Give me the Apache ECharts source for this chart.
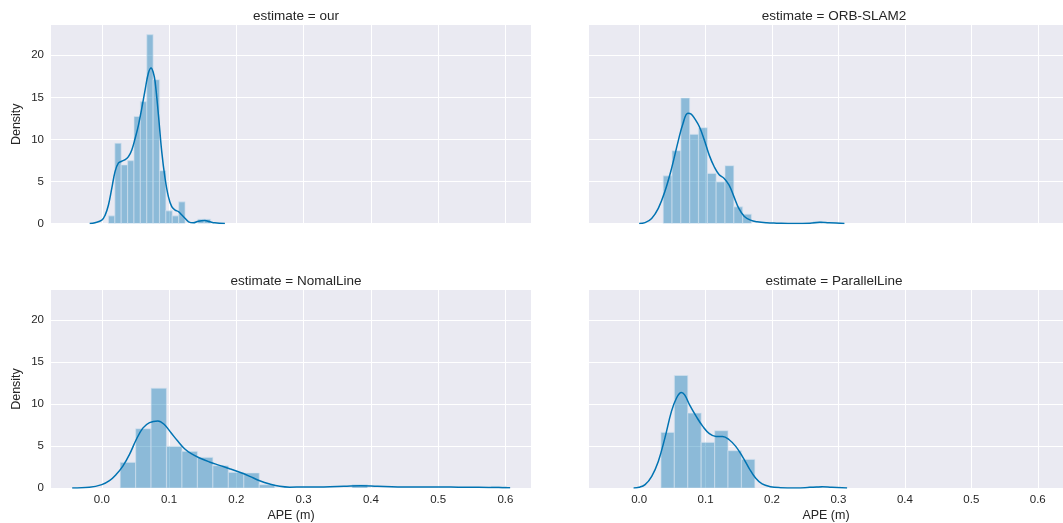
<!DOCTYPE html>
<html>
<head>
<meta charset="utf-8">
<script src="https://cdn.jsdelivr.net/npm/echarts@6/dist/echarts.min.js"></script>
<style>html,body{margin:0;padding:0;background:#fff}#c{width:1063px;height:523px}</style>
</head>
<body>
<div id="c"></div>
<script>
// ---- data ----
const panelTitles = ['estimate = our', 'estimate = ORB-SLAM2', 'estimate = NomalLine', 'estimate = ParallelLine'];
const xTicks = [0.0, 0.1, 0.2, 0.3, 0.4, 0.5, 0.6];
const yTicks = [0, 5, 10, 15, 20];

// histogram bins: start, width, heights (density)
const ourBinStart = 0.0099, ourBinWidth = 0.00949;
const ourHeights = [0.91, 9.54, 6.96, 7.48, 12.72, 14.5, 22.46, 17.1, 6.28, 1.51, 0.91, 2.58, 0, 0, 0.52, 0.52];
const orbBinStart = 0.0362, orbBinWidth = 0.01329;
const orbHeights = [5.67, 8.65, 14.92, 10.6, 11.39, 5.95, 4.96, 6.87, 1.98, 1.11, 0, 0, 0, 0, 0, 0, 0, 0.25];
const nomBinStart = 0.0273, nomBinWidth = 0.02298;
const nomHeights = [3.06, 7.06, 11.9, 4.96, 4.37, 3.65, 2.66, 1.87, 1.79, 0.4, 0, 0, 0, 0, 0, 0.4, 0, 0, 0, 0, 0, 0, 0, 0, 0.2];
const parBinStart = 0.0328, parBinWidth = 0.0202;
const parHeights = [6.63, 13.41, 8.93, 5.44, 6.83, 4.44, 3.41, 0, 0, 0, 0, 0.15];

// KDE curves: [x, density]
const ourKde = [[-0.018,0],[-0.01,0.1],[0.0,0.4],[0.005,1.0],[0.0099,2.2],[0.0149,4.2],[0.0198,6.2],[0.0248,7.2],[0.0297,7.4],[0.0347,7.6],[0.0396,7.95],[0.0446,8.75],[0.0495,10.1],[0.0545,11.7],[0.0594,13.7],[0.0644,15.9],[0.0693,17.9],[0.0733,18.5],[0.0767,17.9],[0.0792,16.9],[0.0842,12.9],[0.0891,8.55],[0.094,5.4],[0.099,3.2],[0.104,2.0],[0.109,1.6],[0.114,1.4],[0.119,1.0],[0.124,0.6],[0.129,0.2],[0.136,0.08],[0.1436,0.28],[0.153,0.36],[0.161,0.2],[0.168,0.08],[0.183,0]];
const orbKde = [[0.0,0],[0.0089,0.1],[0.0188,0.6],[0.0288,1.8],[0.0387,3.8],[0.0486,6.5],[0.0585,9.7],[0.066,11.9],[0.0734,13.1],[0.0783,13.0],[0.0833,12.5],[0.0907,11.5],[0.0982,9.9],[0.1056,8.1],[0.113,6.75],[0.1205,5.8],[0.128,5.36],[0.1354,4.56],[0.1428,3.17],[0.150,1.8],[0.158,0.87],[0.1676,0.4],[0.1775,0.2],[0.192,0.08],[0.207,0.04],[0.232,0],[0.257,0.04],[0.272,0.16],[0.286,0.08],[0.309,0]];
const nomKde = [[-0.044,0],[-0.0184,0.08],[0.0,0.4],[0.0114,0.87],[0.0213,1.6],[0.0313,2.6],[0.0412,4.0],[0.0511,5.75],[0.061,7.14],[0.071,7.8],[0.0834,8.0],[0.0933,7.54],[0.1032,6.55],[0.1132,5.56],[0.123,4.68],[0.133,4.09],[0.1454,3.57],[0.160,3.1],[0.175,2.7],[0.190,2.3],[0.205,1.87],[0.2199,1.39],[0.2347,0.87],[0.2496,0.48],[0.2645,0.2],[0.2794,0.1],[0.30,0.12],[0.33,0.12],[0.36,0.2],[0.385,0.28],[0.41,0.2],[0.44,0.12],[0.47,0.12],[0.50,0.12],[0.53,0.1],[0.56,0.08],[0.59,0.05],[0.607,0.02]];
const parKde = [[-0.0084,0],[0.0,0.08],[0.0089,0.4],[0.0189,1.4],[0.0288,3.17],[0.0387,5.95],[0.0486,9.13],[0.0561,10.7],[0.0635,11.39],[0.0685,11.1],[0.0759,9.9],[0.0859,8.53],[0.0958,7.34],[0.1057,6.47],[0.1156,6.15],[0.1256,6.15],[0.1355,5.75],[0.1454,4.96],[0.1553,3.77],[0.1653,2.38],[0.1752,1.19],[0.1851,0.48],[0.1975,0.16],[0.2124,0.04],[0.237,0],[0.257,0.08],[0.267,0.12],[0.275,0.15],[0.29,0.08],[0.313,0]];

// ---- build ----
const hists = [
  [ourBinStart, ourBinWidth, ourHeights],
  [orbBinStart, orbBinWidth, orbHeights],
  [nomBinStart, nomBinWidth, nomHeights],
  [parBinStart, parBinWidth, parHeights]
];
const kdes = [ourKde, orbKde, nomKde, parKde];

const chart = echarts.init(document.getElementById('c'), null, {renderer: 'canvas'});
const FONT = '"Liberation Sans", Arial, sans-serif';
const TXT = '#262626';
const lefts = [51, 589, 51, 589];
const tops = [25, 25, 290, 290];
const W = 480, H = 198.5;

const grids = [], xAxes = [], yAxes = [], series = [], titles = [];
for (let i = 0; i < 4; i++) {
  grids.push({left: lefts[i], top: tops[i], width: W, height: H, show: true, backgroundColor: '#EAEAF2', borderWidth: 0});
  const bottomRow = i >= 2, leftCol = (i % 2) === 0;
  xAxes.push({
    type: 'value', gridIndex: i, min: -0.0755, max: 0.638,
    name: bottomRow ? 'APE (m)' : '', nameLocation: 'middle', nameGap: 21,
    nameTextStyle: {fontFamily: FONT, fontSize: 12.5, color: TXT},
    axisLine: {show: false},
    axisTick: {show: false, customValues: xTicks},
    axisLabel: {show: bottomRow, fontFamily: FONT, fontSize: 11.5, color: TXT, margin: 6,
      customValues: xTicks, formatter: v => v.toFixed(1)},
    splitLine: {show: true, lineStyle: {color: '#ffffff', width: 1}}
  });
  yAxes.push({
    type: 'value', gridIndex: i, min: 0, max: 23.6,
    name: leftCol ? 'Density' : '', nameLocation: 'middle', nameGap: 28, nameRotate: 90,
    nameTextStyle: {fontFamily: FONT, fontSize: 12.5, color: TXT},
    axisLine: {show: false},
    axisTick: {show: false, customValues: yTicks},
    axisLabel: {show: leftCol, fontFamily: FONT, fontSize: 11.5, color: TXT, margin: 7, customValues: yTicks},
    splitLine: {show: true, lineStyle: {color: '#ffffff', width: 1}}
  });
  const [b0, bw, hs] = hists[i];
  const barData = hs.map((h, k) => [b0 + k * bw, b0 + (k + 1) * bw, h]).filter(d => d[2] > 0);
  series.push({
    type: 'custom', xAxisIndex: i, yAxisIndex: i, data: barData, clip: true,
    renderItem: (params, api) => {
      const p0 = api.coord([api.value(0), 0]);
      const p1 = api.coord([api.value(1), api.value(2)]);
      return {type: 'rect', shape: {x: p0[0], y: p1[1], width: p1[0] - p0[0], height: p0[1] - p1[1]},
        style: {fill: 'rgba(1,115,178,0.4)', stroke: 'rgba(215,228,240,0.55)', lineWidth: 1.2}};
    },
    z: 2
  });
  series.push({
    type: 'line', xAxisIndex: i, yAxisIndex: i, data: kdes[i], smooth: 0.4, showSymbol: false,
    lineStyle: {color: '#0173B2', width: 1.5}, z: 3, silent: true
  });
  titles.push({text: panelTitles[i], left: lefts[i] + W / 2, top: tops[i] - 21, textAlign: 'center',
    textStyle: {fontFamily: FONT, fontSize: 13.5, fontWeight: 'normal', color: TXT}});
}

chart.setOption({
  animation: false,
  backgroundColor: '#ffffff',
  title: titles,
  grid: grids,
  xAxis: xAxes,
  yAxis: yAxes,
  series: series
});
</script>
</body>
</html>
